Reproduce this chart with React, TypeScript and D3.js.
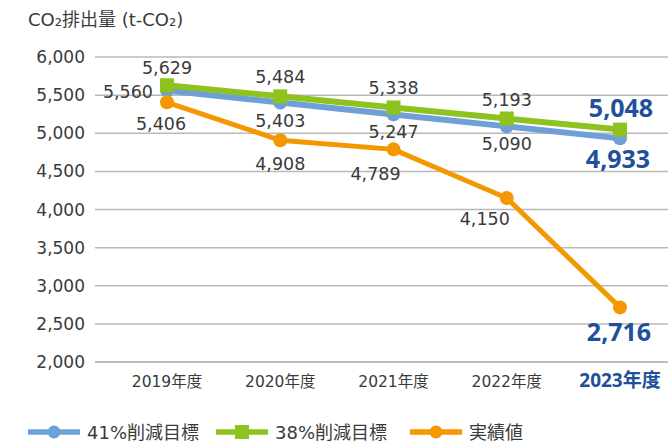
import React from "react";
import * as d3 from "d3";

const years = ["2019年度", "2020年度", "2021年度", "2022年度", "2023年度"];
const target41 = [5560, 5403, 5247, 5090, 4933];
const target38 = [5629, 5484, 5338, 5193, 5048];
const actual = [5406, 4908, 4789, 4150, 2716];
const yTicks = [2000, 2500, 3000, 3500, 4000, 4500, 5000, 5500, 6000];
const legendLabels = ["41%削減目標", "38%削減目標", "実績値"];

const W = 668;
const H = 443;
const BLUE = "#6e9fd6";
const GREEN = "#8dc21f";
const ORANGE = "#f39800";
const DARKBLUE = "#21509b";
const TEXT = "#3a3a3a";
const FONT = "'DejaVu Sans', 'Noto Sans CJK JP', sans-serif";

export default function App() {
  const x = d3.scalePoint<string>().domain(years).range([167, 620]);
  const y = d3.scaleLinear().domain([2000, 6000]).range([362, 57]);
  const line = d3
    .line<number>()
    .x((_, i) => x(years[i]) as number)
    .y((d) => y(d));
  const fmt = d3.format(",");
  const last = years.length - 1;

  const blueOff: [number, number, string][] = [
    [-14, 7, "end"],
    [0, 24, "middle"],
    [0, 24, "middle"],
    [0, 24, "middle"],
    [-2, 30, "middle"],
  ];
  const greenOff: [number, number, string][] = [
    [0, -11, "middle"],
    [0, -13, "middle"],
    [0, -13, "middle"],
    [0, -13, "middle"],
    [1, -13, "middle"],
  ];
  const orangeOff: [number, number, string][] = [
    [-6, 28, "middle"],
    [0, 30, "middle"],
    [-18, 31, "middle"],
    [-22, 27, "middle"],
    [-1, 34, "middle"],
  ];

  const renderLabels = (
    vals: number[],
    offs: [number, number, string][],
    key: string
  ) =>
    vals.map((v, i) => {
      const isLast = i === last;
      return (
        <text
          key={key + i}
          x={(x(years[i]) as number) + offs[i][0]}
          y={y(v) + offs[i][1]}
          textAnchor={offs[i][2] as any}
          fontFamily={isLast ? "'Open Sans', 'Noto Sans', sans-serif" : FONT}
          fontWeight={isLast ? 700 : 400}
          fontSize={isLast ? 25 : 17.5}
          fill={isLast ? DARKBLUE : TEXT}
        >
          {fmt(v)}
        </text>
      );
    });

  const legendItems = [
    { x0: 28, color: BLUE, marker: "circle", label: legendLabels[0] },
    { x0: 216, color: GREEN, marker: "square", label: legendLabels[1] },
    { x0: 410, color: ORANGE, marker: "circle", label: legendLabels[2] },
  ];

  return (
    <svg
      width={W}
      height={H}
      style={{ position: "absolute", left: 0, top: 0, background: "#fff" }}
    >
      <text x={28} y={26} fontFamily={FONT} fontSize={18} fill={TEXT}>
        CO₂排出量 (t-CO₂)
      </text>
      {yTicks.map((t) => (
        <g key={t}>
          <line
            x1={95}
            x2={W}
            y1={y(t)}
            y2={y(t)}
            stroke={t === 2000 ? "#a8a8a8" : "#b9b9b9"}
            strokeWidth={1.5}
          />
          <text
            x={85}
            y={y(t) + 6}
            textAnchor="end"
            fontFamily={FONT}
            fontSize={17}
            fill={TEXT}
          >
            {fmt(t)}
          </text>
        </g>
      ))}
      {years.map((yr, i) => (
        <text
          key={yr}
          x={x(yr) as number}
          y={387}
          textAnchor="middle"
          fontFamily={i === last ? "'Open Sans', 'Noto Sans CJK JP', sans-serif" : FONT}
          fontSize={i === last ? 19 : 15.5}
          fontWeight={i === last ? 700 : 400}
          fill={i === last ? DARKBLUE : TEXT}
        >
          {yr}
        </text>
      ))}

      <path d={line(target41) || ""} fill="none" stroke={BLUE} strokeWidth={6} />
      {target41.map((v, i) => (
        <circle key={"b" + i} cx={x(years[i]) as number} cy={y(v)} r={7} fill={BLUE} />
      ))}
      <path d={line(target38) || ""} fill="none" stroke={GREEN} strokeWidth={6} />
      {target38.map((v, i) => (
        <rect
          key={"g" + i}
          x={(x(years[i]) as number) - 7}
          y={y(v) - 7}
          width={14}
          height={14}
          fill={GREEN}
        />
      ))}
      <path d={line(actual) || ""} fill="none" stroke={ORANGE} strokeWidth={5} />
      {actual.map((v, i) => (
        <circle key={"o" + i} cx={x(years[i]) as number} cy={y(v)} r={7} fill={ORANGE} />
      ))}

      {renderLabels(target38, greenOff, "gl")}
      {renderLabels(target41, blueOff, "bl")}
      {renderLabels(actual, orangeOff, "ol")}

      {legendItems.map((it) => (
        <g key={it.label}>
          <line
            x1={it.x0}
            x2={it.x0 + 52}
            y1={432}
            y2={432}
            stroke={it.color}
            strokeWidth={5.5}
          />
          {it.marker === "circle" ? (
            <circle cx={it.x0 + 26} cy={432} r={6.5} fill={it.color} />
          ) : (
            <rect x={it.x0 + 19} y={425} width={14} height={14} fill={it.color} />
          )}
          <text
            x={it.x0 + 59}
            y={438.5}
            fontFamily={FONT}
            fontSize={18}
            fill={TEXT}
          >
            {it.label}
          </text>
        </g>
      ))}
    </svg>
  );
}
